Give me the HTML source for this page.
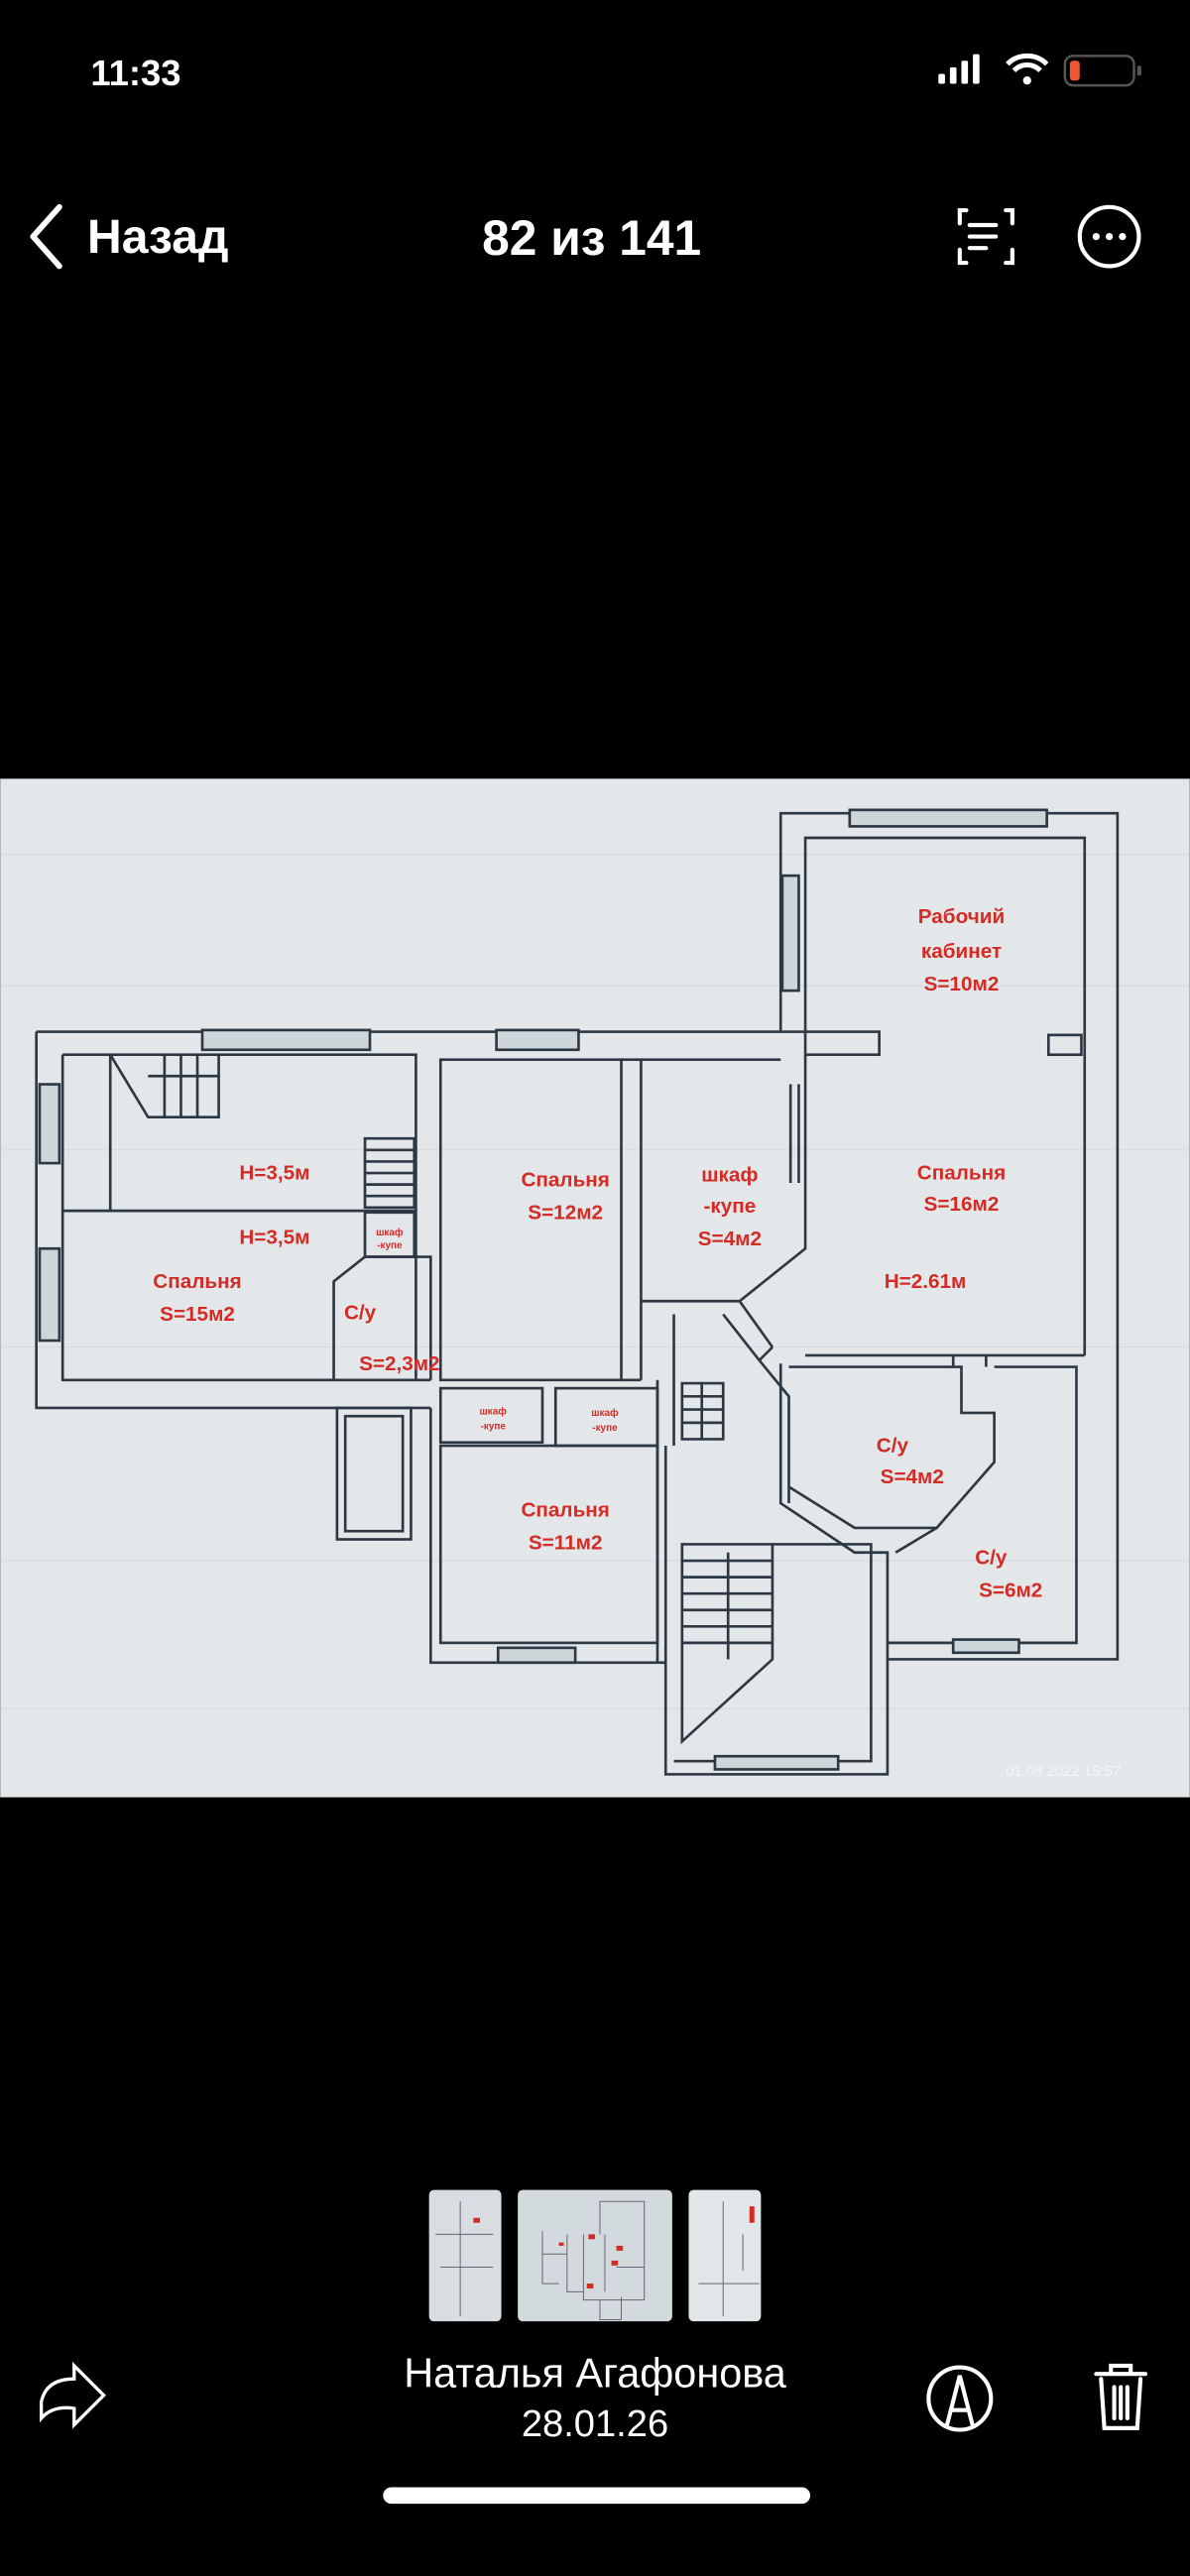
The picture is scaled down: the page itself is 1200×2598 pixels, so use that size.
<!DOCTYPE html>
<html><head><meta charset="utf-8"><style>
html,body{margin:0;padding:0;background:#000;}
svg{display:block;}
text{font-family:"Liberation Sans",sans-serif;}
</style></head><body>
<svg width="1200" height="2598" viewBox="0 0 724 1568" xmlns="http://www.w3.org/2000/svg">
<rect width="724" height="1568" fill="#000"/>
<!-- status bar -->
<text x="55" y="52" fill="#fff" font-size="22" font-weight="bold">11:33</text>
<g fill="#fff">
<rect x="571" y="45" width="4" height="6" rx="1"/><rect x="578" y="41" width="4" height="10" rx="1"/><rect x="585" y="37" width="4" height="14" rx="1"/><rect x="592" y="33" width="4" height="18" rx="1"/>
</g>
<path d="M613 39 a17 17 0 0 1 24 0 M617 43 a11 11 0 0 1 16 0" stroke="#fff" stroke-width="3" fill="none"/>
<circle cx="625" cy="49" r="2.5" fill="#fff"/>
<rect x="648" y="34" width="42" height="18" rx="5" fill="none" stroke="#555" stroke-width="1.5"/>
<rect x="651" y="37" width="6" height="12" rx="2" fill="#e53"/>
<rect x="692" y="40" width="2.5" height="6" rx="1" fill="#555"/>
<!-- nav -->
<path d="M36 126 L20 144 L36 162" stroke="#fff" stroke-width="3.5" fill="none" stroke-linecap="round" stroke-linejoin="round"/>
<text x="53" y="154" fill="#fff" font-size="29" font-weight="bold">Назад</text>
<text x="360" y="155" fill="#fff" font-size="30" font-weight="bold" text-anchor="middle">82 из 141</text>
<g stroke="#fff" stroke-width="2.5" fill="none" stroke-linecap="round">
<path d="M588 128 h-4 v8 M612 128 h4 v8 M588 160 h-4 v-8 M612 160 h4 v-8"/>
<path d="M590 137 h16 M590 144 h16 M590 151 h10"/>
</g>
<circle cx="675" cy="144" r="18" fill="none" stroke="#fff" stroke-width="2.5"/>
<g fill="#fff"><circle cx="667" cy="144" r="2.2"/><circle cx="675" cy="144" r="2.2"/><circle cx="683" cy="144" r="2.2"/></g>

<!-- photo -->
<rect x="0" y="474" width="724" height="620" fill="#e3e7ea"/>
<g stroke="#d2d9dd" stroke-width="0.6">
<line x1="0" y1="520" x2="724" y2="520"/><line x1="0" y1="600" x2="724" y2="600"/><line x1="0" y1="700" x2="724" y2="700"/><line x1="0" y1="820" x2="724" y2="820"/><line x1="0" y1="950" x2="724" y2="950"/><line x1="0" y1="1040" x2="724" y2="1040"/>
</g>
<g stroke="#2c3844" stroke-width="1.6" fill="none">
<path d="M475 628 V495 H680 V1010 H540 V1080 H405 V1012 H262 V857"/>
<path d="M490 642 V510 H660 V825"/>
<rect x="517" y="493" width="120" height="10" fill="#cfd6da"/>
<rect x="476" y="533" width="10" height="70" fill="#cfd6da"/>
<path d="M22 628 H535 V642 H490"/>
<path d="M22 628 V857 H262"/>
<path d="M38 642 V840 H262"/>
<path d="M38 642 H253 V840"/>
<rect x="123" y="627" width="102" height="12" fill="#cfd6da"/>
<rect x="302" y="627" width="50" height="12" fill="#cfd6da"/>
<rect x="24" y="660" width="12" height="48" fill="#cfd6da"/>
<rect x="24" y="760" width="12" height="56" fill="#cfd6da"/>
<rect x="638" y="630" width="20" height="12"/>
<path d="M38 737 H253"/>
<path d="M67 642 L90 680 H133 V642 M90 655 H133 M100 642 V680 M110 642 V680 M120 642 V680"/>
<path d="M67 642 V737"/>
<path d="M222 693 H252 V735 H222 Z M222 700 H252 M222 707 H252 M222 714 H252 M222 721 H252 M222 728 H252"/>
<rect x="222" y="738" width="30" height="27"/>
<path d="M262 840 V765 H222 L203 780 V840"/>
<rect x="205" y="857" width="45" height="80"/><rect x="210" y="862" width="35" height="70"/>
<path d="M268 645 V840 H378 V645 Z"/>
<path d="M378 645 H390 V792 H450"/>
<path d="M390 792 V840 M378 840 H390"/>
<path d="M390 645 H475 M481 660 V720 M486 660 V720"/>
<path d="M450 792 L490 760 V642 M450 792 L470 820 M440 800 L462 828 L470 820 M462 828 L480 850 V915"/>
<path d="M490 825 H660 M580 825 V832 M600 825 V832"/>
<path d="M480 832 H585 V860 H605 V890 L570 930 H520 L480 905"/>
<path d="M475 830 V915 L520 945 H540 V1010"/>
<path d="M605 832 H655 V1000 H540 M545 945 L570 930"/>
<rect x="580" y="998" width="40" height="8" fill="#cfd6da"/>
<rect x="268" y="845" width="62" height="33"/><rect x="338" y="845" width="62" height="35"/>
<path d="M400 840 V1012"/>
<rect x="268" y="880" width="132" height="120"/>
<rect x="303" y="1003" width="47" height="9" fill="#cfd6da"/>
<path d="M415 842 H440 V876 H415 Z M415 850 H440 M415 858 H440 M415 866 H440 M427 842 V876"/>
<path d="M405 880 V1012 M410 800 V880"/>
<path d="M415 940 H470 V1010 L415 1060 V940 Z M415 950 H470 M415 960 H470 M415 970 H470 M415 980 H470 M415 990 H470 M415 1000 H470 M443 945 V1010"/>
<path d="M410 1072 H530 V940 H470"/>
<rect x="435" y="1069" width="75" height="8" fill="#cfd6da"/>
</g>
<g fill="#d42b25" font-size="12.5" font-weight="bold" text-anchor="middle">
<text x="585" y="562">Рабочий</text>
<text x="585" y="583">кабинет</text>
<text x="585" y="603">S=10м2</text>
<text x="585" y="718">Спальня</text>
<text x="585" y="737">S=16м2</text>
<text x="563" y="784">H=2.61м</text>
<text x="444" y="719">шкаф</text>
<text x="444" y="738">-купе</text>
<text x="444" y="758">S=4м2</text>
<text x="344" y="722">Спальня</text>
<text x="344" y="742">S=12м2</text>
<text x="167" y="718">H=3,5м</text>
<text x="167" y="757">H=3,5м</text>
<text x="120" y="784">Спальня</text>
<text x="120" y="804">S=15м2</text>
<text x="219" y="803">С/у</text>
<text x="243" y="834">S=2,3м2</text>
<text x="344" y="923">Спальня</text>
<text x="344" y="943">S=11м2</text>
<text x="543" y="884">С/у</text>
<text x="555" y="903">S=4м2</text>
<text x="603" y="952">С/у</text>
<text x="615" y="972">S=6м2</text>
<text x="237" y="752" font-size="6">шкаф</text>
<text x="237" y="760" font-size="6">-купе</text>
<text x="300" y="861" font-size="6">шкаф</text>
<text x="300" y="870" font-size="6">-купе</text>
<text x="368" y="862" font-size="6">шкаф</text>
<text x="368" y="871" font-size="6">-купе</text>
</g>
<text x="612" y="1081" fill="#f4f6f8" font-size="9">01.08.2022 15:57</text>

<!-- thumbnails -->
<rect x="261" y="1333" width="44" height="80" rx="3" fill="#d7dde1"/>
<rect x="315" y="1333" width="94" height="80" rx="3" fill="#d3dade"/>
<rect x="419" y="1333" width="44" height="80" rx="3" fill="#e1e6e9"/>
<g stroke="#667" stroke-width="0.6" fill="none">
<path d="M330 1358 V1390 H340 M330 1372 H345 M345 1360 V1395 H355 V1400 H392 V1340 H365 V1360 M355 1360 V1400 M368 1360 V1395 M375 1380 H392 M365 1400 V1412 H378 V1398"/>
<path d="M265 1360 H300 M280 1340 V1410 M268 1380 H300 M440 1340 V1410 M425 1390 H462 M452 1360 V1382"/>
</g>
<g fill="#d42b25"><rect x="340" y="1365" width="3" height="2"/><rect x="358" y="1360" width="4" height="3"/><rect x="375" y="1367" width="4" height="3"/><rect x="357" y="1390" width="4" height="3"/><rect x="372" y="1376" width="4" height="3"/><rect x="456" y="1343" width="3" height="10"/><rect x="288" y="1350" width="4" height="3"/></g>
<!-- name/date -->
<text x="362" y="1453" fill="#fff" font-size="25" text-anchor="middle">Наталья Агафонова</text>
<text x="362" y="1483" fill="#fff" font-size="23" text-anchor="middle">28.01.26</text>
<!-- bottom icons -->
<path d="M25 1472 V1462 Q28 1448 45 1448 V1440 L63 1458 L45 1476 V1466 Q32 1464 25 1472 Z" fill="none" stroke="#fff" stroke-width="2"/>
<circle cx="584" cy="1460" r="19" fill="none" stroke="#fff" stroke-width="2.5"/>
<path d="M576 1477 L584 1446 L592 1477 M579 1467 H589" fill="none" stroke="#fff" stroke-width="2.5"/>
<g fill="none" stroke="#fff" stroke-width="2.5" stroke-linecap="round">
<path d="M667 1445 H697 M676 1445 V1440 H688 V1445 M670 1448 L672 1478 H692 L694 1448 M678 1453 V1472 M682 1453 V1472 M686 1453 V1472"/>
</g>
<rect x="233" y="1514" width="260" height="10" rx="5" fill="#fff"/>
</svg>
</body></html>
